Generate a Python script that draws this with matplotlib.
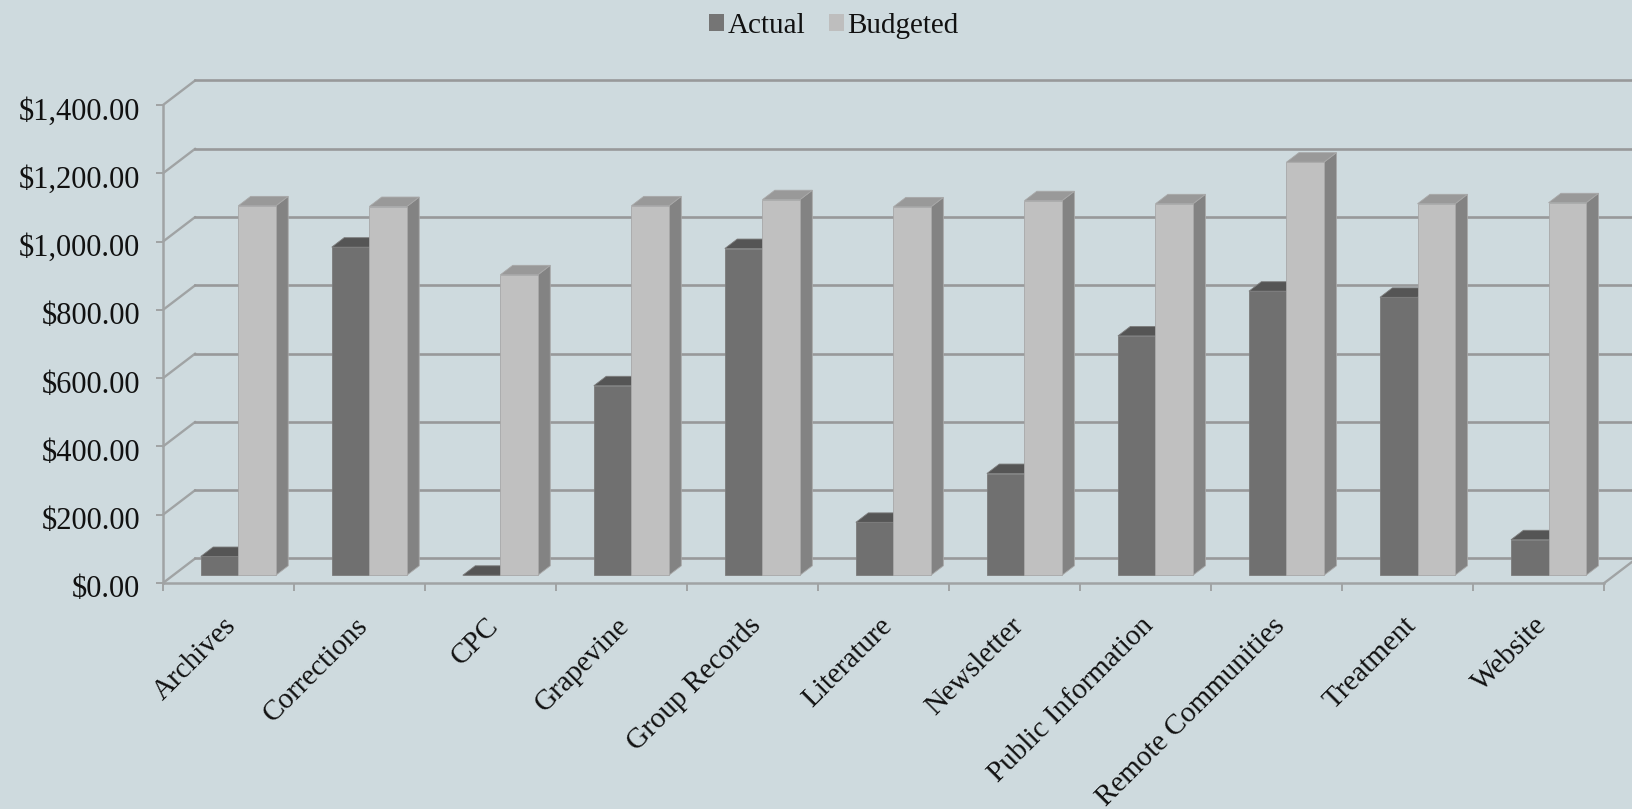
import matplotlib
matplotlib.use("Agg")
import matplotlib.pyplot as plt
from matplotlib.patches import Polygon, Patch
from matplotlib.transforms import ScaledTranslation

categories = ["Archives", "Corrections", "CPC", "Grapevine", "Group Records", "Literature",
              "Newsletter", "Public Information", "Remote Communities", "Treatment", "Website"]
actual = [55, 961, 0, 555, 957, 155, 298, 701, 832, 814, 104]
budgeted = [1082, 1080, 880, 1082, 1100, 1079, 1097, 1088, 1210, 1088, 1091]
y_ticks = [0, 200, 400, 600, 800, 1000, 1200, 1400]

BG = "#CEDADE"
W, H = 1632, 809
plt.rcParams["font.family"] = ["Liberation Serif", "DejaVu Serif"]

fig = plt.figure(figsize=(W / 100, H / 100), dpi=100, facecolor=BG)
ax = fig.add_axes([163.0 / W, 1 - 583 / H, (1604.3 - 163.0) / W, (583 - 105) / H], facecolor="none")
ax.set_xlim(0, len(categories))
ax.set_ylim(0, 1400)

# Oblique depth projection: z runs from 0 (front) to 1 (back wall)
DEPTH_X = 0.246
DEPTH_Y = 72.0


def project(x, y, z):
    return (x + z * DEPTH_X, y + z * DEPTH_Y)


LINE = "#A0A3A4"
BACK_LINE = "#98999A"
for v in y_ticks:
    ax.plot(*zip(project(0, v, 0), project(0, v, 1)), color=LINE, lw=1.7, clip_on=False,
            solid_capstyle="round", zorder=1)
    ax.plot(*zip(project(0, v, 1), project(len(categories), v, 1)), color=BACK_LINE, lw=1.9,
            clip_on=False, zorder=1)
ax.plot(*zip(project(len(categories), 0, 0), project(len(categories), 0, 1)), color=LINE, lw=1.7,
        clip_on=False, zorder=1)

BAR_W = 0.2865
Z_FRONT, Z_BACK = 0.315, 0.70
GAP = (1 - 2 * BAR_W) / 2 - 0.003


def draw_bar(x0, value, face, top, side, edge, z):
    x1 = x0 + BAR_W
    polys = [
        ([project(x1, 0, Z_FRONT), project(x1, 0, Z_BACK), project(x1, value, Z_BACK), project(x1, value, Z_FRONT)], side),
        ([project(x0, value, Z_FRONT), project(x1, value, Z_FRONT), project(x1, value, Z_BACK), project(x0, value, Z_BACK)], top),
        ([project(x0, 0, Z_FRONT), project(x1, 0, Z_FRONT), project(x1, value, Z_FRONT), project(x0, value, Z_FRONT)], face),
    ]
    for pts, col in polys:
        ax.add_patch(Polygon(pts, closed=True, facecolor=col, edgecolor=edge, lw=0.6, clip_on=False, zorder=z))


for i, (a, b) in enumerate(zip(actual, budgeted)):
    draw_bar(i + GAP, a, "#707070", "#555555", "#5C5C5C", "#7C7C7C", 2 + i * 0.01)
    draw_bar(i + GAP + BAR_W, b, "#C0C0C0", "#999999", "#838383", "#A8A8A8", 2.005 + i * 0.01)

for s in ("top", "right"):
    ax.spines[s].set_visible(False)
for s in ("left", "bottom"):
    ax.spines[s].set_color(LINE)
    ax.spines[s].set_linewidth(1.8)
    ax.spines[s].set_zorder(3)

ax.set_yticks(y_ticks)
ax.set_yticklabels([f"${v:,.2f}" for v in y_ticks], fontsize=22, color="#111111", va="center")
ax.tick_params(axis="y", length=5.4, width=1.4, color=LINE, pad=11)
for lbl in ax.get_yticklabels():
    lbl.set_transform(lbl.get_transform() + ScaledTranslation(0, -5.0 / 72, fig.dpi_scale_trans))

ax.set_xticks(range(len(categories) + 1))
ax.set_xticklabels([])
ax.set_xticks([i + 0.5 for i in range(len(categories))], minor=True)
ax.set_xticklabels(categories, minor=True, rotation=45, ha="right", va="top",
                   rotation_mode="anchor", fontsize=21, color="#111111")
ax.tick_params(axis="x", which="major", length=5.4, width=1.4, color=LINE)
ax.tick_params(axis="x", which="minor", length=0, pad=25)
for lbl in ax.get_xticklabels(minor=True):
    lbl.set_transform(lbl.get_transform() + ScaledTranslation(-3.7 / 72, 3.7 / 72, fig.dpi_scale_trans))

handles = [Patch(facecolor="#757575", edgecolor="none", label="Actual"),
           Patch(facecolor="#BEBEBE", edgecolor="none", label="Budgeted")]
fig.legend(handles=handles, loc="upper center", bbox_to_anchor=(834 / W, 1), ncols=2, frameon=False,
           fontsize=21, handlelength=0.52, handleheight=0.52, handletextpad=0.13, columnspacing=0.78,
           labelcolor="#111111", borderaxespad=0.05)

fig.savefig("out.png", dpi=100, facecolor=BG)
